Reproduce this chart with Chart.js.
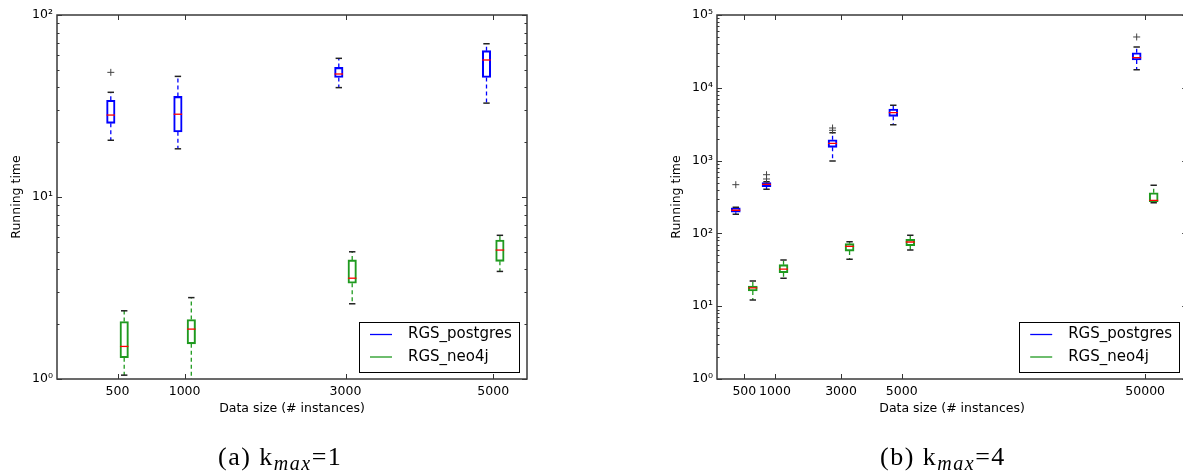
<!DOCTYPE html>
<html>
<head>
<meta charset="utf-8">
<script src="https://cdn.jsdelivr.net/npm/chart.js@4/dist/chart.umd.min.js"></script>
<style>
  html, body { margin: 0; padding: 0; background: #fff; overflow: hidden; }
  body { width: 1183px; height: 473px; position: relative; }
  .wrap { position: absolute; top: 0; height: 473px; }
  #wa { left: 0; width: 590px; }
  #wb { left: 603px; width: 590px; }
  .cap { position: absolute; top: 444px; font-family: "Liberation Serif", "Times New Roman", serif; font-size: 26px; line-height: 1; color: #000; white-space: nowrap; letter-spacing: 1.5px; }
  .cap sub { font-size: 20px; font-style: italic; vertical-align: -5px; line-height: 0; letter-spacing: 1.5px; }
</style>
</head>
<body>
<div class="wrap" id="wa"><canvas id="ca" width="590" height="473"></canvas></div>
<div class="wrap" id="wb"><canvas id="cb" width="590" height="473"></canvas></div>
<div class="cap" style="left:218px">(a) k<sub>max</sub>=1</div>
<div class="cap" style="left:880px">(b) k<sub>max</sub>=4</div>
<script>
// ---------------- data ----------------
const seriesNames = ['RGS_postgres', 'RGS_neo4j'];

// (a) k_max = 1
const categoriesA = ['500', '1000', '3000', '5000'];
const positionsA = [6.05, 12.76, 28.85, 43.62];
const yTickLabelsA = ['10\u2070', '10\u00B9', '10\u00B2'];
const pgA_low    = [20.5, 18.4, 39.9, 32.8];
const pgA_q1     = [25.4, 22.8, 45.4, 45.4];
const pgA_median = [28.2, 28.5, 47.4, 56.6];
const pgA_q3     = [34.0, 35.7, 51.5, 63.7];
const pgA_high   = [37.6, 46.0, 57.8, 69.5];
const pgA_fliers = [[48.4], [], [], []];
const neoA_low    = [1.05, 0.9, 2.59, 3.9];
const neoA_q1     = [1.31, 1.56, 3.36, 4.43];
const neoA_median = [1.51, 1.88, 3.58, 5.11];
const neoA_q3     = [2.07, 2.12, 4.51, 5.80];
const neoA_high   = [2.37, 2.80, 5.0, 6.16];
const neoA_fliers = [[], [], [], []];

// (b) k_max = 4
const categoriesB = ['500', '1000', '3000', '5000', '50000'];
const positionsB = [2.73, 5.8, 12.4, 18.47, 42.8];
const yTickLabelsB = ['10\u2070', '10\u00B9', '10\u00B2', '10\u00B3', '10\u2074', '10\u2075'];
const pgB_low    = [183, 403, 988, 3113, 17750];
const pgB_q1     = [195, 438, 1521, 4056, 24100];
const pgB_median = [208, 472, 1728, 4550, 25900];
const pgB_q3     = [225, 498, 1936, 5114, 30340];
const pgB_high   = [228, 513, 2415, 5750, 36330];
const pgB_fliers = [[467], [559, 640], [2608, 2803], [], [49900]];
const neoB_low    = [12.2, 24.2, 44.0, 59.2, 264];
const neoB_q1     = [16.2, 28.9, 57.2, 67.7, 273];
const neoB_median = [17.9, 32.4, 66.4, 76.2, 285];
const neoB_q3     = [18.9, 37.2, 72.3, 82.9, 362];
const neoB_high   = [22.2, 43.1, 76.9, 94.1, 458];
const neoB_fliers = [[], [], [], [], []];

// ---------------- styles ----------------
const BLUE = '#0000ff', GREEN = '#1f9a1f', RED = '#ff0000', CAP = '#222222', FLIER = '#444444';
const FONT = '"DejaVu Sans", sans-serif';

function boxDatasets(s, pos, offset, color, boxW, name) {
  const xs = pos.map(p => p + offset);
  const whisk = [];
  xs.forEach((x, i) => {
    whisk.push({x: x, y: s.q3[i]}, {x: x, y: s.high[i]}, {x: x, y: null});
    whisk.push({x: x, y: s.q1[i]}, {x: x, y: s.low[i]}, {x: x, y: null});
  });
  const caps = [];
  xs.forEach((x, i) => { caps.push({x: x, y: s.high[i]}, {x: x, y: s.low[i]}); });
  const fl = [];
  xs.forEach((x, i) => s.fliers[i].forEach(v => fl.push({x: x, y: v})));
  return [
    { type: 'bar', label: name, data: xs.map((x, i) => ({x: x, y: [s.q1[i], s.q3[i]]})),
      backgroundColor: 'rgba(255,255,255,0)', borderColor: color, borderWidth: 1.4,
      borderSkipped: false, barThickness: boxW, grouped: false, order: 4 },
    { type: 'line', label: name + ' whiskers', data: whisk, borderColor: color, borderWidth: 1.3,
      borderDash: [4, 3], pointRadius: 0, spanGaps: false, fill: false, order: 3 },
    { type: 'scatter', label: name + ' caps', data: caps, pointStyle: 'line', pointRadius: 3.2,
      pointHoverRadius: 3.2, borderColor: CAP, pointBorderWidth: 1.5, order: 2 },
    { type: 'scatter', label: name + ' median', data: xs.map((x, i) => ({x: x, y: s.median[i]})),
      pointStyle: 'line', pointRadius: boxW / 2, pointHoverRadius: boxW / 2, borderColor: RED,
      pointBorderWidth: 1.3, order: 1 },
    { type: 'scatter', label: name + ' fliers', data: fl, pointStyle: 'cross', pointRadius: 3.5,
      pointHoverRadius: 3.5, borderColor: FLIER, pointBorderWidth: 1, order: 0 }
  ];
}

const frameTicks = {
  id: 'frameTicks',
  afterDraw(chart) {
    const {ctx, chartArea: a, scales: {x, y}} = chart;
    ctx.save();
    ctx.strokeStyle = '#333';
    ctx.lineWidth = 1;
    ctx.beginPath();
    y.ticks.forEach(t => {
      const py = Math.round(y.getPixelForValue(t.value)) + 0.5;
      const L = t.major ? 5 : 2.5;
      ctx.moveTo(a.left, py); ctx.lineTo(a.left + L, py);
      ctx.moveTo(a.right, py); ctx.lineTo(a.right - L, py);
    });
    x.ticks.forEach(t => {
      const px = Math.round(x.getPixelForValue(t.value)) + 0.5;
      ctx.moveTo(px, a.bottom); ctx.lineTo(px, a.bottom - 5);
      ctx.moveTo(px, a.top); ctx.lineTo(px, a.top + 5);
    });
    ctx.stroke();
    ctx.strokeStyle = '#3a3a3a';
    ctx.lineWidth = 1.5;
    ctx.strokeRect(a.left, a.top, a.right - a.left, a.bottom - a.top);
    ctx.restore();
  }
};

const boxLegend = {
  id: 'boxLegend',
  afterDraw(chart, args, opts) {
    const {ctx, chartArea: a} = chart;
    const w = 160, h = 50;
    const x0 = a.right - 8 - w, y0 = a.bottom - 7 - h;
    ctx.save();
    ctx.fillStyle = '#fff';
    ctx.fillRect(x0, y0, w, h);
    ctx.strokeStyle = '#000';
    ctx.lineWidth = 1;
    ctx.strokeRect(Math.round(x0) + 0.5, Math.round(y0) + 0.5, w, h);
    ctx.font = '15px ' + FONT;
    ctx.textBaseline = 'middle';
    ctx.fillStyle = '#000';
    opts.items.forEach((it, i) => {
      const cy = y0 + 12.5 + i * 22.5;
      ctx.strokeStyle = it.color;
      ctx.lineWidth = 1.3;
      ctx.beginPath(); ctx.moveTo(x0 + 11, cy); ctx.lineTo(x0 + 33, cy); ctx.stroke();
      ctx.fillText(it.label, x0 + 49, cy);
    });
    ctx.restore();
  }
};

function makeChart(id, o) {
  const maxExp = o.yLabels.length - 1;
  const datasets = [].concat(
    boxDatasets(o.pg, o.positions, -o.offset, BLUE, o.boxW, seriesNames[0]),
    boxDatasets(o.neo, o.positions, o.offset, GREEN, o.boxW, seriesNames[1])
  );
  return new Chart(document.getElementById(id), {
    type: 'scatter',
    data: { datasets },
    plugins: [frameTicks, boxLegend],
    options: {
      responsive: false,
      animation: false,
      events: [],
      layout: { padding: { left: o.padLeft, right: o.padRight, top: 15, bottom: 0 } },
      plugins: {
        legend: { display: false },
        tooltip: { enabled: false },
        boxLegend: { items: [{label: seriesNames[0], color: BLUE}, {label: seriesNames[1], color: GREEN}] }
      },
      scales: {
        x: {
          type: 'linear', min: 0, max: 47, offset: false, bounds: 'data',
          afterBuildTicks: s => { s.ticks = o.positions.map(v => ({value: v})); },
          afterFit: s => { s.height = 94; },
          grid: { display: false, drawTicks: false, tickLength: 0 }, border: { display: false },
          ticks: { autoSkip: false, maxRotation: 0, padding: 5, color: '#000',
                   font: { family: FONT, size: 12.5 },
                   callback: (v, i) => o.categories[i] },
          title: { display: true, text: 'Data size (# instances)', color: '#000',
                   font: { family: FONT, size: 12.5 }, padding: { top: 0, bottom: 57 } }
        },
        y: {
          type: 'logarithmic', min: 1, max: Math.pow(10, maxExp), bounds: 'data',
          afterBuildTicks: s => {
            const t = [];
            for (let e = 0; e < maxExp; e++) {
              for (let k = 1; k <= 9; k++) t.push({value: k * Math.pow(10, e), major: k === 1});
            }
            t.push({value: Math.pow(10, maxExp), major: true});
            s.ticks = t;
          },
          afterFit: s => { s.width = 57; },
          grid: { display: false, drawTicks: false, tickLength: 0 }, border: { display: false },
          ticks: { autoSkip: false, padding: 4, color: '#000',
                   font: { family: FONT, size: 12.5 },
                   callback: v => {
                     const e = Math.log10(v);
                     const r = Math.round(e);
                     return Math.abs(e - r) < 1e-9 ? o.yLabels[r] : '';
                   } },
          title: { display: true, text: 'Running time', color: '#000',
                   font: { family: FONT, size: 12.5 }, padding: { top: 9, bottom: 0 } }
        }
      }
    }
  });
}

makeChart('ca', {
  categories: categoriesA, positions: positionsA, yLabels: yTickLabelsA,
  pg: { low: pgA_low, q1: pgA_q1, median: pgA_median, q3: pgA_q3, high: pgA_high, fliers: pgA_fliers },
  neo: { low: neoA_low, q1: neoA_q1, median: neoA_median, q3: neoA_q3, high: neoA_high, fliers: neoA_fliers },
  offset: 0.67, boxW: 8.5, padLeft: 0, padRight: 63
});
makeChart('cb', {
  categories: categoriesB, positions: positionsB, yLabels: yTickLabelsB,
  pg: { low: pgB_low, q1: pgB_q1, median: pgB_median, q3: pgB_q3, high: pgB_high, fliers: pgB_fliers },
  neo: { low: neoB_low, q1: neoB_q1, median: neoB_median, q3: neoB_q3, high: neoB_high, fliers: neoB_fliers },
  offset: 0.85, boxW: 9, padLeft: 57, padRight: 0
});
</script>
</body>
</html>
